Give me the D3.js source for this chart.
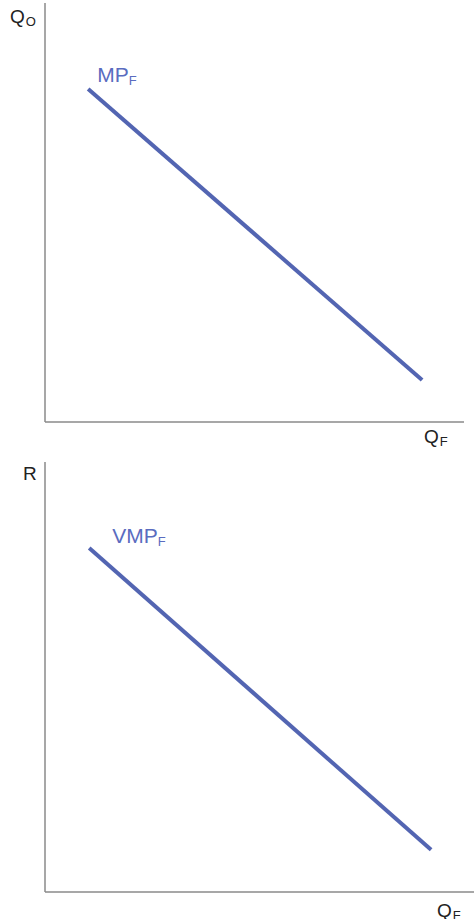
<!DOCTYPE html>
<html>
<head>
<meta charset="utf-8">
<script src="https://cdn.jsdelivr.net/npm/d3@7"></script>
<style>
  body { margin: 0; background: #fff; }
  svg { display: block; font-family: "Liberation Sans", Arial, sans-serif; }
</style>
</head>
<body>
<svg id="chart" width="474" height="919"></svg>
<script>
// input quantity (share of axis) and output values
const quantityF = [10.3, 90];
const mpF = [79.5, 10];
const vmpF = [80, 9.8];

const panels = [
  { name: "MPF", yLabel: "Q", ySub: "O", curve: "MP", curveSub: "F", values: mpF,
    x0: 45, x1: 464, y0: 422, y1: 3 },
  { name: "VMPF", yLabel: "R", ySub: "", curve: "VMP", curveSub: "F", values: vmpF,
    x0: 45, x1: 474, y0: 892, y1: 462 }
];

const svg = d3.select("#chart");
const axisColor = "#8a8a8a";
const lineColor = "#5365b2";

panels.forEach((p) => {
  const x = d3.scaleLinear().domain([0, 100]).range([p.x0, p.x1]);
  const y = d3.scaleLinear().domain([0, 100]).range([p.y0, p.y1]);
  const g = svg.append("g");

  // axes: plain lines, no ticks
  g.append("line")
    .attr("x1", x(0)).attr("x2", x(0))
    .attr("y1", y(0)).attr("y2", y(100))
    .attr("stroke", axisColor).attr("stroke-width", 1.5);
  g.append("line")
    .attr("x1", x(0)).attr("x2", x(100))
    .attr("y1", y(0)).attr("y2", y(0))
    .attr("stroke", axisColor).attr("stroke-width", 1.5);

  // the curve
  const pts = quantityF.map((q, i) => [x(q), y(p.values[i])]);
  g.append("path")
    .attr("d", d3.line()(pts))
    .attr("stroke", lineColor)
    .attr("stroke-width", 4)
    .attr("fill", "none");

  // curve label, just above the start of the line
  const lbl = g.append("text")
    .attr("x", pts[0][0] + (p.curve === "MP" ? 9 : 23))
    .attr("y", pts[0][1] - (p.curve === "MP" ? 7 : 5))
    .attr("fill", "#5a6cc0")
    .attr("font-size", 21);
  lbl.append("tspan").text(p.curve);
  lbl.append("tspan").attr("font-size", 13).attr("dy", 3).text(p.curveSub);

  // y axis label
  const yl = g.append("text")
    .attr("x", p.ySub ? 10 : 23)
    .attr("y", p.y1 + (p.ySub ? 20 : 18))
    .attr("fill", "#222")
    .attr("font-size", 19);
  yl.append("tspan").text(p.yLabel);
  if (p.ySub) yl.append("tspan").attr("font-size", 13).attr("dy", 3).attr("dx", 1).text(p.ySub);

  // x axis label
  const xl = g.append("text")
    .attr("x", p.x1 - (p.name === "MPF" ? 40 : 37))
    .attr("y", p.y0 + (p.name === "MPF" ? 21 : 25))
    .attr("fill", "#222")
    .attr("font-size", 19);
  xl.append("tspan").text("Q");
  xl.append("tspan").attr("font-size", 13).attr("dy", 3).attr("dx", 1).text("F");
});
</script>
</body>
</html>
